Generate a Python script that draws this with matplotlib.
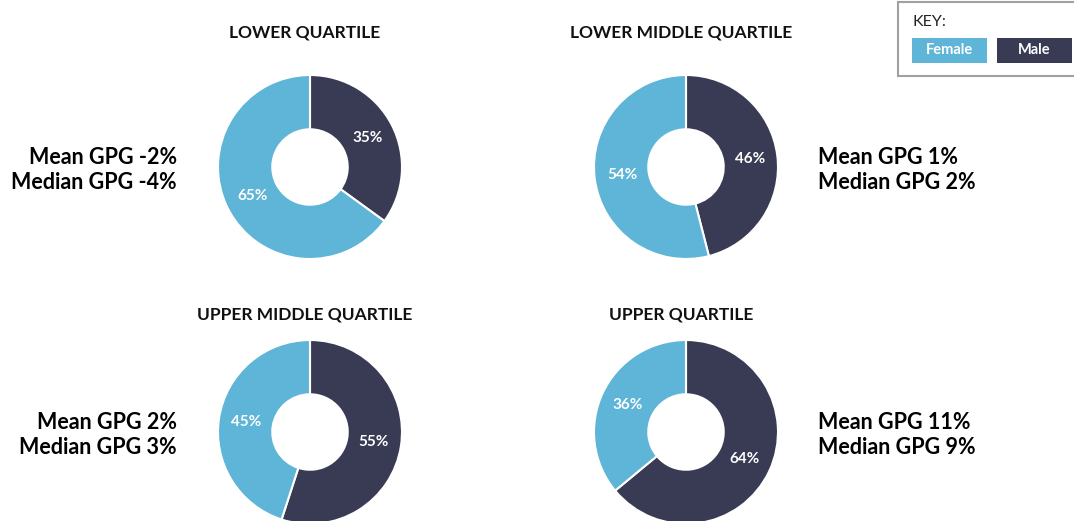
import matplotlib.pyplot as plt
from matplotlib.patches import Rectangle

plt.rcParams['font.family'] = ['Lato', 'DejaVu Sans']

# data
quartiles = ['LOWER QUARTILE', 'LOWER MIDDLE QUARTILE',
             'UPPER MIDDLE QUARTILE', 'UPPER QUARTILE']
male_pct = [35, 46, 55, 64]
female_pct = [65, 54, 45, 36]
mean_gpg = ['-2%', '1%', '2%', '11%']
median_gpg = ['-4%', '2%', '3%', '9%']

FEMALE = '#5eb5d7'
MALE = '#393b55'

W, H = 1074, 521
fig = plt.figure(figsize=(W / 100, H / 100), dpi=100)
ax = fig.add_axes([0, 0, 1, 1])

# pixel layout (x, y from top)
centers = [(310, 167), (686, 167), (310, 432), (686, 432)]
title_pos = [(305, 33), (681, 33), (305, 314), (681, 314)]
text_side = ['left', 'right', 'left', 'right']
R = 92

for i in range(4):
    cx, cy = centers[i]
    wedges, texts, autotexts = ax.pie(
        [male_pct[i], female_pct[i]], colors=[MALE, FEMALE],
        startangle=90, counterclock=False, radius=R, center=(cx, H - cy),
        autopct='%d%%', pctdistance=0.70,
        wedgeprops=dict(width=R * 0.59, edgecolor='white', linewidth=1.5),
        textprops=dict(color='white', fontsize=11, fontweight='bold'))
    tx, ty = title_pos[i]
    ax.text(tx, H - ty, quartiles[i], ha='center', va='center',
            fontsize=12.5, fontweight='bold', color='#111111')
    lines = 'Mean GPG %s\nMedian GPG %s' % (mean_gpg[i], median_gpg[i])
    if text_side[i] == 'left':
        ax.text(177, H - cy - 3, lines, ha='right', va='center',
                fontsize=15.5, fontweight='bold', linespacing=1.22)
    else:
        ax.text(818, H - cy - 3, lines, ha='left', va='center',
                fontsize=15.5, fontweight='bold', linespacing=1.22)

# key box
ax.add_patch(Rectangle((898, H - 76), 190, 74, facecolor='white',
                       edgecolor='#a0a0a0', linewidth=1.5, clip_on=True))
ax.text(912, H - 22, 'KEY:', ha='left', va='center', fontsize=11.5, color='#222222')
ax.add_patch(Rectangle((912, H - 63), 75, 25, facecolor=FEMALE, edgecolor='none'))
ax.add_patch(Rectangle((997, H - 63), 75, 25, facecolor=MALE, edgecolor='none'))
ax.text(949.5, H - 50.5, 'Female', ha='center', va='center', fontsize=10.5,
        fontweight='bold', color='white')
ax.text(1034.5, H - 50.5, 'Male', ha='center', va='center', fontsize=10.5,
        fontweight='bold', color='white')

ax.set_xlim(0, W)
ax.set_ylim(0, H)
ax.set_aspect('auto')
ax.axis('off')

fig.savefig('out.png', dpi=100)
